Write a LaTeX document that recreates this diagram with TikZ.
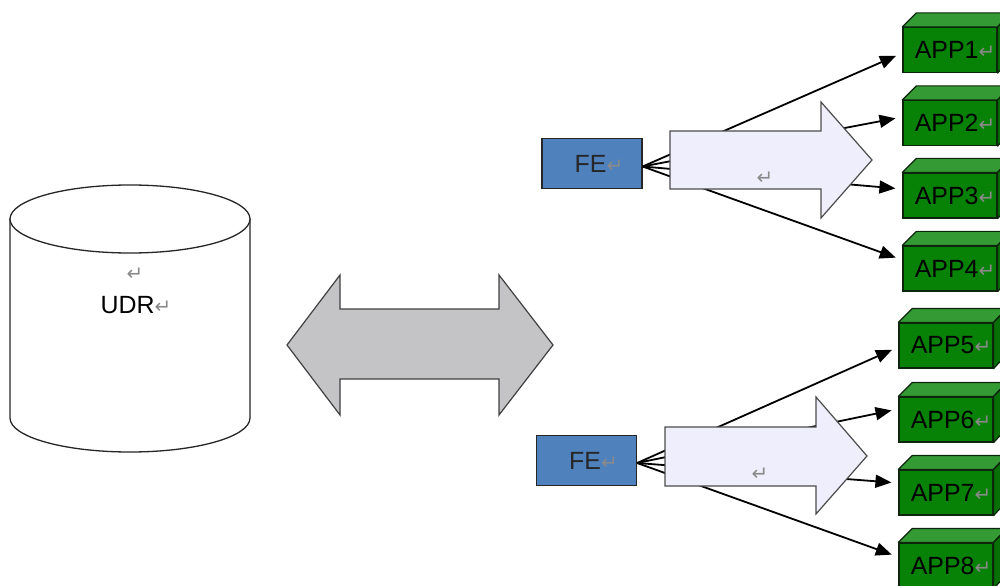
\documentclass[tikz,border=0pt]{standalone}
\usepackage{fontspec}
\setmainfont{Liberation Sans}
\newfontfamily\symfont{DejaVu Sans}
\usetikzlibrary{arrows.meta,calc}
\definecolor{feblue}{HTML}{4F81BD}
\definecolor{appgreen}{HTML}{078207}
\definecolor{apptop}{HTML}{349A34}
\definecolor{appside}{HTML}{067006}
\definecolor{appline}{HTML}{0D240D}
\definecolor{bigarrow}{HTML}{EEEEFC}
\definecolor{dblarrow}{HTML}{C4C3C6}
\definecolor{retgray}{HTML}{8A8A8A}
\newcommand\mytext{\fontsize{25}{28}\selectfont}
\newcommand\ret{{\symfont\fontsize{20}{20}\selectfont\color{retgray}↵}}
\begin{document}
\begin{tikzpicture}[x=1bp,y=-1bp,
  febox/.style={draw=black!85, line width=1.2bp, fill=feblue, minimum width=100bp, minimum height=50bp, inner sep=0pt, font=\mytext, text=black!85},
  appbox/.style={draw=appline, line width=1.2bp, fill=appgreen, minimum width=94bp, minimum height=45bp, inner sep=0pt, font=\mytext},
  appface/.style={draw=appline, line width=1.2bp, line join=round},
  link/.style={line width=1.8bp, -{Triangle[length=16bp,width=13bp]}, shorten >=7bp},
  blockarrow/.style={draw=black!70, line width=1.2bp, fill=bigarrow, line join=miter},
  retmark/.style={inner sep=0pt}
]
\useasboundingbox (0,0) rectangle (1000,586);

% cylinder UDR
\filldraw[fill=white, draw=black!85, line width=1.3bp] (10,219) -- (10,418) arc[start angle=180, end angle=0, x radius=120, y radius=34] -- (250,219) -- cycle;
\filldraw[fill=white, draw=black!85, line width=1.3bp] (130,219) ellipse[x radius=120, y radius=34];
\node[retmark] (udrret) at (135,274) {\ret};
\node[inner sep=0pt, font=\mytext] (udr) at (136,305) {UDR\ret};

% double arrow
\filldraw[fill=dblarrow, draw=black!75, line width=1.2bp]
  (287,345) -- (340,275) -- (340,309) -- (499,309) -- (499,275) -- (553,345)
  -- (499,415) -- (499,379) -- (340,379) -- (340,415) -- cycle;

% FE boxes
\node[febox] (fe1) at (592,163.5) {\hspace*{14bp}FE\ret};
\node[febox] (fe2) at (586.5,460.5) {\hspace*{14bp}FE\ret};

% APP boxes
\foreach \n/\x/\y in {1/950/50, 2/950/123, 3/950/195.5, 4/950/268.5, 5/946/345.5, 6/946/419.5, 7/946/492.5, 8/946/565.5}{
  \node[appbox] (app\n) at (\x,\y) {\hspace*{10bp}APP\n\ret};
  \filldraw[appface, fill=apptop] (app\n.north west) -- ++(14,-14) -- ++(94,0) -- (app\n.north east) -- cycle;
  \filldraw[appface, fill=appside] (app\n.north east) -- ++(14,-14) -- ++(0,45) -- (app\n.south east) -- cycle;
}

% connectors top group
\coordinate (s1) at ($(fe1.east)+(0,3)$);
\draw[link] (s1) -- ($(app1.west)+(0,3)$);
\draw[link] (s1) -- ($(app2.west)+(0,-6)$);
\draw[link] (s1) -- ($(app3.west)+(0,-6.5)$);
\draw[link] (s1) -- ($(app4.west)+(0,-8.5)$);
% connectors bottom group
\coordinate (s2) at ($(fe2.east)+(0,2.5)$);
\draw[link] (s2) -- ($(app5.west)+(0,1.5)$);
\draw[link] (s2) -- ($(app6.west)+(0,-10.5)$);
\draw[link] (s2) -- ($(app7.west)+(0,-9.5)$);
\draw[link] (s2) -- ($(app8.west)+(0,-8.5)$);

% block arrows over the connectors
\filldraw[blockarrow] (670,131) -- (821,131) -- (821,102) -- (872,160) -- (821,218) -- (821,189) -- (670,189) -- cycle;
\node[retmark] (ret1) at (765,178) {\ret};
\filldraw[blockarrow] (665,427) -- (816,427) -- (816,397) -- (867,456) -- (816,514) -- (816,486) -- (665,486) -- cycle;
\node[retmark] (ret2) at (760,474) {\ret};
\end{tikzpicture}
\end{document}
